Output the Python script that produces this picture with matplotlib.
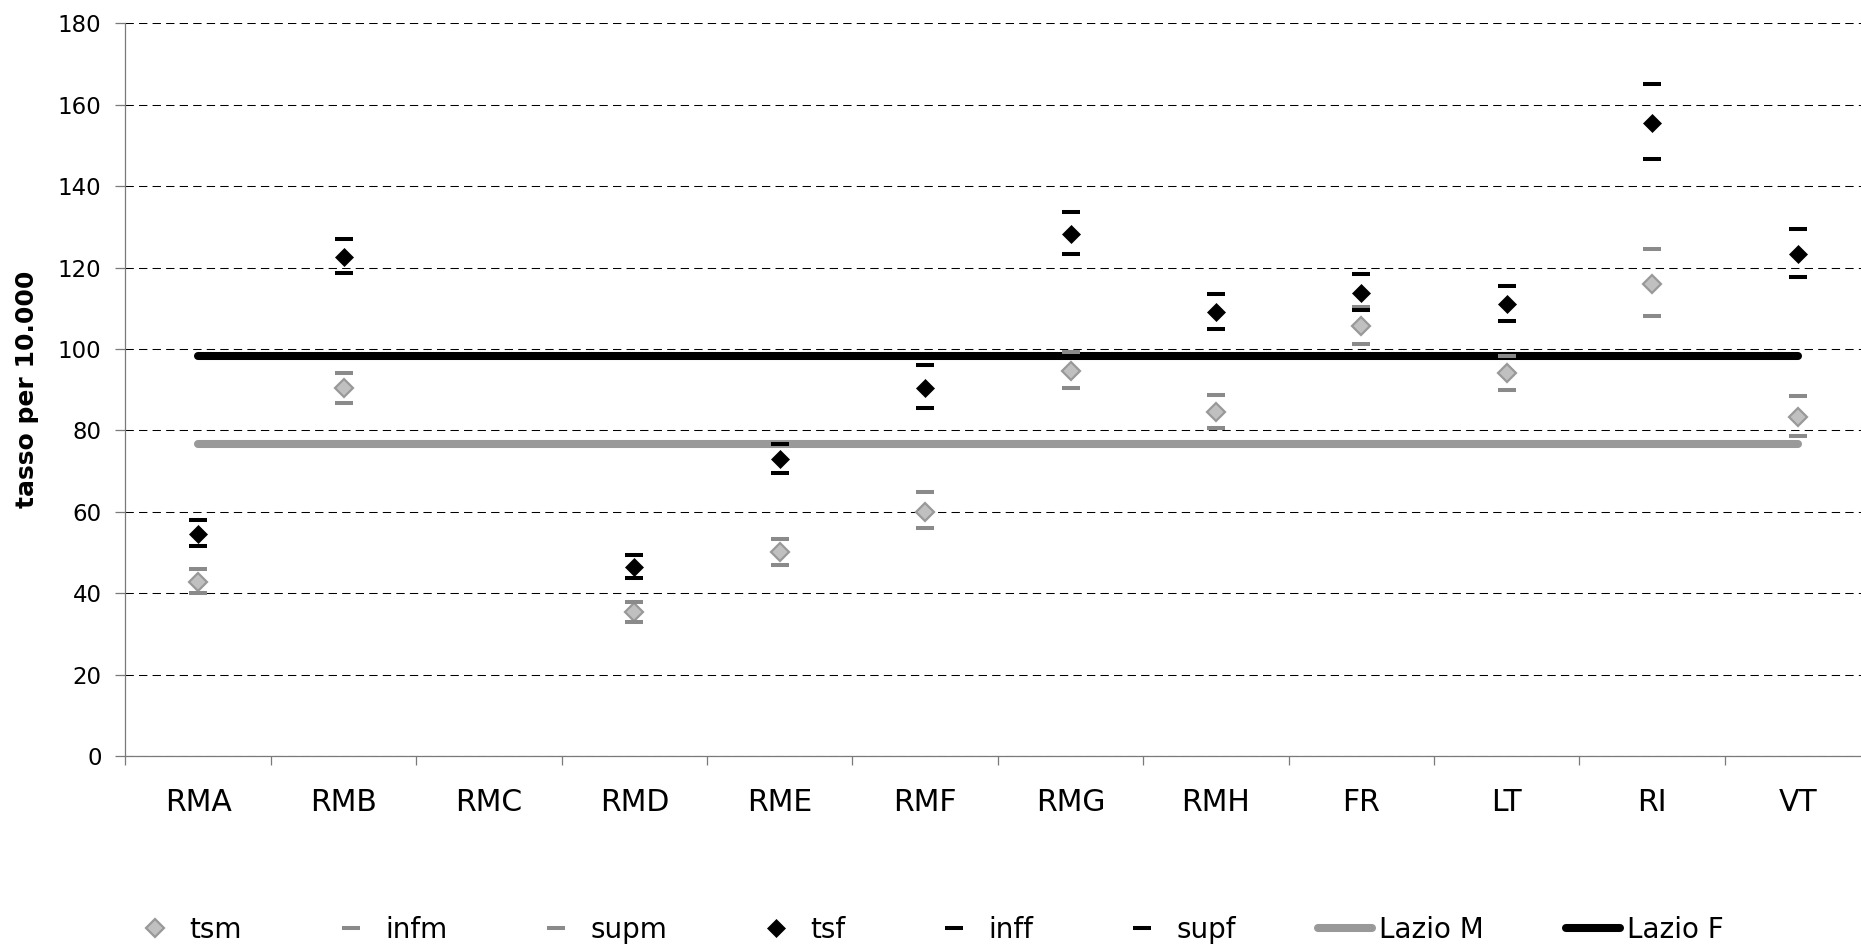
import numpy as np
import matplotlib
matplotlib.use("Agg")
import matplotlib.pyplot as plt
from matplotlib.ticker import FixedLocator

# ---------------- data ----------------
categories = ["RMA", "RMB", "RMC", "RMD", "RME", "RMF", "RMG", "RMH", "FR", "LT", "RI", "VT"]
tsm = [42.8, 90.4, np.nan, 35.4, 50.0, 60.0, 94.7, 84.5, 105.6, 94.0, 116.0, 83.3]
infm = [40.0, 86.6, np.nan, 32.8, 46.9, 55.9, 90.3, 80.6, 101.2, 90.0, 108.0, 78.5]
supm = [46.0, 94.2, np.nan, 37.9, 53.3, 64.8, 99.3, 88.6, 110.4, 98.3, 124.6, 88.5]
tsf = [54.5, 122.7, np.nan, 46.5, 72.9, 90.5, 128.3, 109.0, 113.8, 111.1, 155.4, 123.4]
inff = [51.6, 118.7, np.nan, 43.8, 69.5, 85.4, 123.4, 104.8, 109.5, 106.9, 146.6, 117.7]
supf = [58.0, 127.1, np.nan, 49.3, 76.6, 96.1, 133.6, 113.6, 118.4, 115.5, 165.0, 129.5]
lazio_m = [76.6, 76.6, 76.6, 76.6, 76.6, 76.6, 76.6, 76.6, 76.6, 76.6, 76.6, 76.6]
lazio_f = [98.3, 98.3, 98.3, 98.3, 98.3, 98.3, 98.3, 98.3, 98.3, 98.3, 98.3, 98.3]
y_ticks = [0, 20, 40, 60, 80, 100, 120, 140, 160, 180]
y_label = "tasso per 10.000"

# ---------------- style ----------------
plt.rcParams["font.family"] = ["DejaVu Sans"]
GRAY_LINE = "#999999"
GRAY_BAR = "#8a8a8a"
GRAY_FILL = "#c0c0c0"
AXIS_COL = "#7a7a7a"

fig = plt.figure(figsize=(18.61, 9.47), dpi=100)
ax = fig.add_axes([0.0674, 0.2017, 0.9376, 0.7737])

x = np.arange(len(categories))

# Lazio reference lines
ax.plot(x, lazio_m, color=GRAY_LINE, lw=5.8, solid_capstyle="round", zorder=2, label="Lazio M")
ax.plot(x, lazio_f, color="black", lw=5.8, solid_capstyle="round", zorder=2, label="Lazio F")

bar_ms = 12.8
bar_mew = 2.9
h_tsm, = ax.plot(x, tsm, ls="none", marker="D", ms=9.0, mfc=GRAY_FILL, mec=GRAY_LINE, mew=1.6, zorder=3, label="tsm")
h_infm, = ax.plot(x, infm, ls="none", marker="_", ms=bar_ms, mew=bar_mew, color=GRAY_BAR, zorder=3, label="infm")
h_supm, = ax.plot(x, supm, ls="none", marker="_", ms=bar_ms, mew=bar_mew, color=GRAY_BAR, zorder=3, label="supm")
h_tsf, = ax.plot(x, tsf, ls="none", marker="D", ms=9.6, mfc="black", mec="black", mew=0.5, zorder=4, label="tsf")
h_inff, = ax.plot(x, inff, ls="none", marker="_", ms=bar_ms, mew=bar_mew, color="black", zorder=4, label="inff")
h_supf, = ax.plot(x, supf, ls="none", marker="_", ms=bar_ms, mew=bar_mew, color="black", zorder=4, label="supf")

# axes
ax.set_xlim(-0.5, len(categories) - 0.5)
ax.set_ylim(0, 180)
ax.set_yticks(y_ticks)
ax.set_xticks(x)
ax.set_xticklabels(categories)
ax.xaxis.set_minor_locator(FixedLocator(np.arange(-0.5, len(categories), 1.0)))

ax.tick_params(axis="x", which="major", length=0, pad=23, labelsize=21.5)
ax.tick_params(axis="x", which="minor", length=6.5, width=0.9, color=AXIS_COL, direction="out")
ax.tick_params(axis="y", which="major", length=7.2, width=0.9, color=AXIS_COL, direction="out",
               pad=10, labelsize=16.5)

for s in ["top", "right"]:
    ax.spines[s].set_visible(False)
for s in ["left", "bottom"]:
    ax.spines[s].set_color(AXIS_COL)
    ax.spines[s].set_linewidth(0.9)

# dashed gridlines
ax.yaxis.grid(True, color="black", lw=0.75, ls=(0, (8, 5)))
ax.set_axisbelow(True)

ax.set_ylabel(y_label, fontsize=18, fontweight="bold", va="center")
ax.yaxis.set_label_coords(-0.0565, 0.5)

# legend
handles = [h_tsm, h_infm, h_supm, h_tsf, h_inff, h_supf] + ax.lines[:2]
labels = [h.get_label() for h in handles]
fig.legend(handles, labels, loc="center left", bbox_to_anchor=(0.069, 0.018),
           ncol=8, frameon=False, fontsize=20, handlelength=1.95, handletextpad=0.25,
           columnspacing=2.95, borderpad=0, borderaxespad=0, numpoints=1)

fig.savefig("out.png", dpi=100)
